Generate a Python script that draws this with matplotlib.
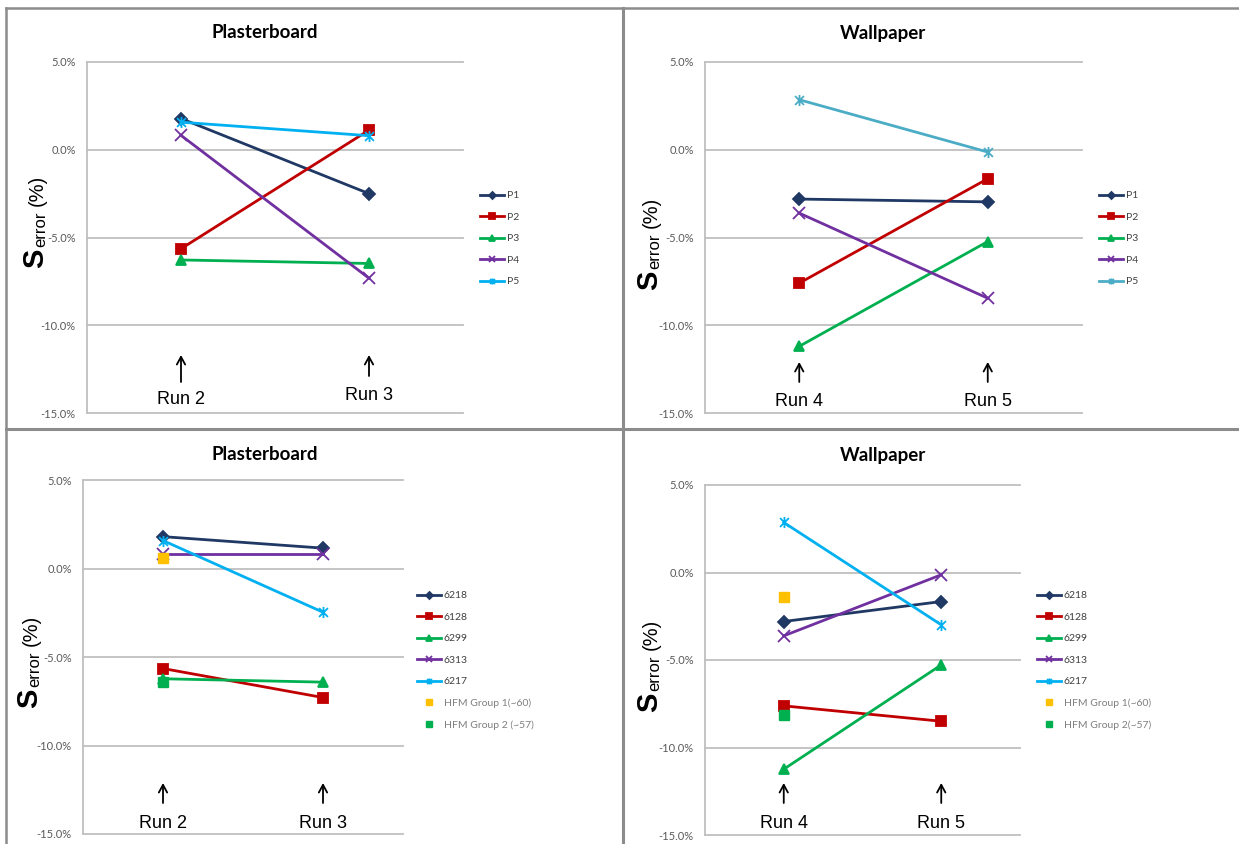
import matplotlib
matplotlib.use("Agg")
import matplotlib.pyplot as plt
from matplotlib.lines import Line2D
from matplotlib.path import Path

W, H = 1239, 844

# data, S_error in %
runs_plaster = ["Run 2", "Run 3"]
runs_wall = ["Run 4", "Run 5"]

p_names = ["P1", "P2", "P3", "P4", "P5"]
p_plaster = [[1.78, -2.50], [-5.64, 1.12], [-6.28, -6.48], [0.82, -7.32], [1.57, 0.80]]
p_wall = [[-2.81, -2.97], [-7.60, -1.65], [-11.20, -5.23], [-3.61, -8.46], [2.85, -0.13]]

hfm_names = ["6218", "6128", "6299", "6313", "6217"]
hfm_plaster = [[1.80, 1.15], [-5.65, -7.29], [-6.23, -6.42], [0.82, 0.82], [1.58, -2.47]]
hfm_wall = [[-2.80, -1.66], [-7.62, -8.50], [-11.24, -5.28], [-3.62, -0.13], [2.86, -2.99]]

grp_plaster = [0.62, -6.42]
grp_wall = [-1.41, -8.17]
grp_names_plaster = ["HFM Group 1(~60)", "HFM Group 2 (~57)"]
grp_names_wall = ["HFM Group 1(~60)", "HFM Group 2(~57)"]

yticks = [5.0, 0.0, -5.0, -10.0, -15.0]

# excel style asterisk: x with a vertical bar
star = Path([(-1, -1), (1, 1), (-1, 1), (1, -1), (0, -1.25), (0, 1.25)],
            [Path.MOVETO, Path.LINETO, Path.MOVETO, Path.LINETO, Path.MOVETO, Path.LINETO])

colors = ["#1F3864", "#C00000", "#00B050", "#7030A0", "#00B0F0"]
colors_tr = ["#1F3864", "#C00000", "#00B050", "#7030A0", "#4BACC6"]
markers = ["D", "s", "^", "x", star]
msizes = [6.5, 7.5, 7.5, 8, 8]
grp_colors = ["#FFC000", "#00B050"]

fig = plt.figure(figsize=(W / 100, H / 100), dpi=100)


def fx(px):
    return px / W


def fy(py):
    return 1 - py / H


def panel(box, title, title_x, title_y, runs, series, names, cols,
          leg_x, leg_y, lab_x, lab_y, arr, txt_y, groups=None, grp_names=None):
    x0, y0, x1, y1 = box
    ax = fig.add_axes([fx(x0), fy(y1), (x1 - x0) / W, (y1 - y0) / H])
    ax.set_xlim(-0.5, 1.5)
    ax.set_ylim(-15, 5)
    for v in yticks:
        ax.axhline(v, color="#BFBFBF", lw=1.3, clip_on=False, zorder=0)
    for s in ["top", "right", "bottom"]:
        ax.spines[s].set_visible(False)
    ax.spines["left"].set_color("#BFBFBF")
    ax.spines["left"].set_linewidth(1.3)
    ax.set_xticks([])
    ax.set_yticks(yticks)
    ax.set_yticklabels(["{:.1f}%".format(v) for v in yticks],
                       fontsize=8, color="#595959", family="Lato")
    ax.tick_params(axis="y", length=0, pad=8)

    handles = []
    for i in range(len(series)):
        l, = ax.plot([0, 1], series[i], color=cols[i], lw=2, marker=markers[i],
                     ms=msizes[i], mew=1.3, label=names[i], clip_on=False)
        handles.append(l)
    if groups is not None:
        for j in range(len(groups)):
            g, = ax.plot([0], [groups[j]], ls="none", marker="s", ms=7.5,
                         color=grp_colors[j], label=grp_names[j], clip_on=False)
            handles.append(g)

    leg = ax.legend(handles=handles, loc="upper left",
                    bbox_to_anchor=(fx(leg_x), fy(leg_y)),
                    bbox_transform=fig.transFigure, frameon=False,
                    handlelength=2.3, handletextpad=0.25,
                    labelspacing=1.17, markerscale=0.55, borderaxespad=0,
                    borderpad=0, prop={"family": "Lato", "size": 7.5})
    for t in leg.get_texts():
        t.set_color("#404040")
    if groups is not None:
        for t in leg.get_texts()[-2:]:
            t.set_color("#7F7F7F")

    fig.text(fx(title_x), fy(title_y), title, ha="center", va="center",
             fontsize=13.5, fontweight="bold", family="Lato")

    # y label: S error (%), all on one vertical baseline
    kw = dict(rotation=90, rotation_mode="anchor", ha="center", va="baseline",
              family="Liberation Sans")
    fig.text(fx(lab_x), fy(lab_y - 10), "S", fontsize=21, fontweight="bold", **kw)
    fig.text(fx(lab_x + 2), fy(lab_y - 39), "error", fontsize=12, **kw)
    fig.text(fx(lab_x), fy(lab_y - 78), "(%)", fontsize=14.5, **kw)

    # run arrows
    for k in range(2):
        xa = ax.transData.transform((k, 0))[0]
        xa = fig.transFigure.inverted().transform((xa, 0))[0]
        ya, yb = arr[k]
        ax.annotate("", xy=(xa, fy(yb)), xytext=(xa, fy(ya)),
                    xycoords="figure fraction", textcoords="figure fraction",
                    arrowprops=dict(arrowstyle="->,head_length=0.55,head_width=0.3",
                                    color="black", lw=1.3, shrinkA=0, shrinkB=0))
        fig.text(xa, fy(txt_y[k]), runs[k], ha="center", va="center",
                 fontsize=13, family="Liberation Sans")
    return ax


panel((87, 62, 463, 413), "Plasterboard", 265, 33, runs_plaster, p_plaster,
      p_names, colors, 480, 191, 43, 268, [(382, 355), (376, 355)], [400, 395])
panel((705, 62, 1082, 413), "Wallpaper", 883, 33, runs_wall, p_wall,
      p_names, colors_tr, 1099, 191, 657, 290, [(382, 362), (382, 362)], [402, 402])
panel((83, 480, 403, 834), "Plasterboard", 265, 455, runs_plaster, hfm_plaster,
      hfm_names, colors, 417, 591, 37, 708, [(803, 783), (803, 783)], [823, 823],
      groups=grp_plaster, grp_names=grp_names_plaster)
panel((705, 485, 1020, 835), "Wallpaper", 883, 456, runs_wall, hfm_wall,
      hfm_names, colors, 1037, 591, 657, 712, [(803, 783), (803, 783)], [823, 823],
      groups=grp_wall, grp_names=grp_names_wall)

# panel frame lines
frame = "#8C8C8C"
fig.add_artist(Line2D([fx(6), 1], [fy(8), fy(8)], color=frame, lw=1.8))
fig.add_artist(Line2D([fx(6), fx(6)], [fy(8), 0], color=frame, lw=1.8))
fig.add_artist(Line2D([fx(623), fx(623)], [fy(8), 0], color=frame, lw=2.2))
fig.add_artist(Line2D([fx(6), 1], [fy(429), fy(429)], color=frame, lw=2.2))

fig.savefig("out.png", dpi=100)
